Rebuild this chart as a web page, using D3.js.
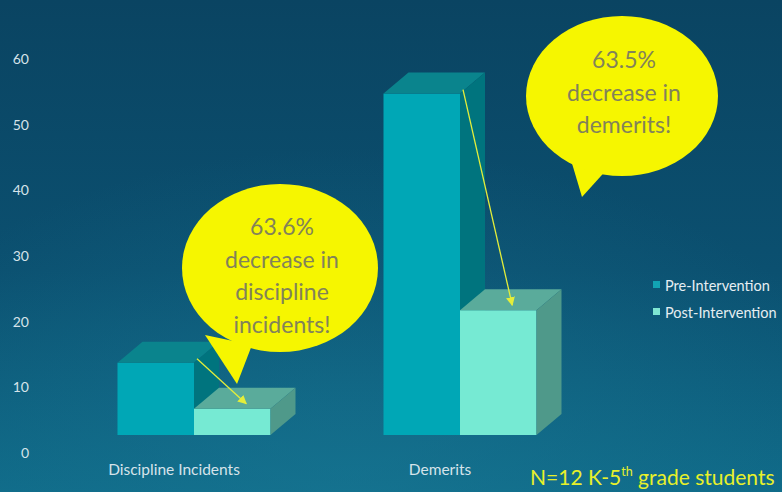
<!DOCTYPE html>
<html>
<head>
<meta charset="utf-8">
<script src="https://cdn.jsdelivr.net/npm/d3@7"></script>
<style>
  html, body { margin: 0; padding: 0; overflow: hidden; background: #0c4d6a; }
  svg { display: block; }
</style>
</head>
<body>
<svg id="chart" width="782" height="492"></svg>
<script>
// ---- data ----
const categories = ["Discipline Incidents", "Demerits"];
const seriesNames = ["Pre-Intervention", "Post-Intervention"];
const preIntervention = [11, 52];
const postIntervention = [4, 19];
const yTicks = [0, 10, 20, 30, 40, 50, 60];
const calloutDiscipline = ["63.6%", "decrease in", "discipline", "incidents!"];
const calloutDemerits = ["63.5%", "decrease in", "demerits!"];
const footnoteMain = "N=12 K-5";
const footnoteSup = "th";
const footnoteTail = " grade students";

// ---- setup ----
const W = 782, H = 492;
const FONT = "Lato, 'Open Sans', sans-serif";
const svg = d3.select("#chart");
const defs = svg.append("defs");

const bg = defs.append("linearGradient").attr("id", "bg")
  .attr("x1", 0).attr("y1", 0).attr("x2", 0).attr("y2", 1);
bg.append("stop").attr("offset", "0%").attr("stop-color", "#0a4462");
bg.append("stop").attr("offset", "55%").attr("stop-color", "#0b5070");
bg.append("stop").attr("offset", "100%").attr("stop-color", "#0f6a88");

const glow = defs.append("radialGradient").attr("id", "glow")
  .attr("cx", 0.45).attr("cy", 1.0).attr("r", 0.7);
glow.append("stop").attr("offset", "0%").attr("stop-color", "#1a7a96").attr("stop-opacity", 0.5);
glow.append("stop").attr("offset", "100%").attr("stop-color", "#1a7a96").attr("stop-opacity", 0);

svg.append("rect").attr("width", W).attr("height", H).attr("fill", "url(#bg)");
svg.append("rect").attr("width", W).attr("height", H).attr("fill", "url(#glow)");

defs.append("marker").attr("id", "arrowhead")
  .attr("viewBox", "0 0 10 10").attr("refX", 9).attr("refY", 5)
  .attr("markerWidth", 9).attr("markerHeight", 9)
  .attr("markerUnits", "userSpaceOnUse")
  .attr("orient", "auto")
  .append("path").attr("d", "M0,0 L10,5 L0,10 Z").attr("fill", "#e4ee3a");

// ---- scales ----
const x0 = d3.scaleBand().domain(categories).range([61, 593]);
const xs = d3.scaleBand().domain(seriesNames).range([-76.5, 76.5]);
const y = d3.scaleLinear().domain([0, 60]).range([435, 41]);

// depth of the 3D extrusion
const DX = 25, DY = -21;

const palette = {
  "Pre-Intervention":  { front: "#00a7b6", top: "#0a848d", side: "#00747e", key: "#12a3b3" },
  "Post-Intervention": { front: "#76ead3", top: "#5aab9b", side: "#4f998a", key: "#7fe6d2" }
};

// ---- y axis ----
const yAxis = d3.axisLeft(y).tickValues(yTicks).tickSize(0).tickPadding(0);
const axisG = svg.append("g").attr("transform", "translate(29,18)").call(yAxis);
axisG.select(".domain").remove();
axisG.selectAll("text")
  .attr("fill", "#d6e3ea")
  .style("font-family", FONT)
  .style("font-size", "14px");

// ---- bars ----
const barData = [];
categories.forEach((c, i) => {
  barData.push({ cat: c, series: seriesNames[0], value: preIntervention[i] });
  barData.push({ cat: c, series: seriesNames[1], value: postIntervention[i] });
});

const barsG = svg.append("g");
barData.forEach(d => {
  const cx = x0(d.cat) + x0.bandwidth() / 2;
  const xa = cx + xs(d.series);
  const xb = xa + xs.bandwidth();
  const yt = y(d.value), yb = y(0);
  const col = palette[d.series];
  const g = barsG.append("g");
  g.append("rect").attr("x", xa).attr("y", yt)
    .attr("width", xb - xa).attr("height", yb - yt).attr("fill", col.front);
  g.append("polygon")
    .attr("points", [[xa, yt], [xb, yt], [xb + DX, yt + DY], [xa + DX, yt + DY]].join(" "))
    .attr("fill", col.top);
  g.append("polygon")
    .attr("points", [[xb, yt], [xb + DX, yt + DY], [xb + DX, yb + DY], [xb, yb]].join(" "))
    .attr("fill", col.side);
});

// ---- category labels ----
svg.append("g").selectAll("text").data(categories).join("text")
  .attr("x", d => x0(d) + x0.bandwidth() / 2 - 20)
  .attr("y", 475)
  .attr("text-anchor", "middle")
  .attr("fill", "#d6e3ea")
  .style("font-family", FONT)
  .style("font-size", "15.5px")
  .text(d => d);

// ---- legend ----
const legend = svg.append("g").attr("transform", "translate(653,0)");
seriesNames.forEach((s, i) => {
  const ly = 287 + i * 27;
  legend.append("rect").attr("x", 0).attr("y", ly - 6).attr("width", 7).attr("height", 7)
    .attr("fill", palette[s].key);
  legend.append("text").attr("x", 12).attr("y", ly + 4)
    .attr("fill", "#e6eef2")
    .style("font-family", FONT)
    .style("font-size", "14.5px")
    .text(s);
});

// ---- callout bubbles ----
function bubble(cx, cy, rx, ry, tail, lines, firstBaseline) {
  const g = svg.append("g");
  g.append("polygon").attr("points", tail.join(" ")).attr("fill", "#f6f600");
  g.append("ellipse").attr("cx", cx).attr("cy", cy).attr("rx", rx).attr("ry", ry)
    .attr("fill", "#f6f600");
  g.selectAll("text").data(lines).join("text")
    .attr("x", cx + 2)
    .attr("y", (d, i) => firstBaseline + i * 32.5)
    .attr("text-anchor", "middle")
    .attr("fill", "#82825a")
    .style("font-family", FONT)
    .style("font-size", "23px")
    .text(d => d);
}
bubble(280, 268, 98, 84, [[205, 335], [237, 384], [252, 345]], calloutDiscipline, 235);
bubble(622, 96, 96, 80, [[568, 150], [582, 197], [610, 166]], calloutDemerits, 68);

// ---- arrows from pre to post bars ----
function arrow(catIndex) {
  const c = categories[catIndex];
  const cx = x0(c) + x0.bandwidth() / 2;
  const preRight = cx + xs(seriesNames[0]) + xs.bandwidth();
  const postMid = cx + xs(seriesNames[1]) + xs.bandwidth() / 2;
  const x1 = preRight + 3, y1 = y(preIntervention[catIndex]) - 4;
  const x2 = postMid + 14, y2 = y(postIntervention[catIndex]) - 5;
  svg.append("line").attr("x1", x1).attr("y1", y1).attr("x2", x2).attr("y2", y2)
    .attr("stroke", "#e4ee3a").attr("stroke-width", 1.3)
    .attr("marker-end", "url(#arrowhead)");
}
arrow(0);
arrow(1);

// ---- footnote ----
const fn = svg.append("text").attr("x", 530).attr("y", 485)
  .attr("fill", "#e8f02a")
  .style("font-family", FONT)
  .style("font-size", "21px");
fn.append("tspan").text(footnoteMain);
fn.append("tspan").attr("dy", -9).style("font-size", "12.5px").text(footnoteSup);
fn.append("tspan").attr("dy", 9).text(footnoteTail);
</script>
</body>
</html>
